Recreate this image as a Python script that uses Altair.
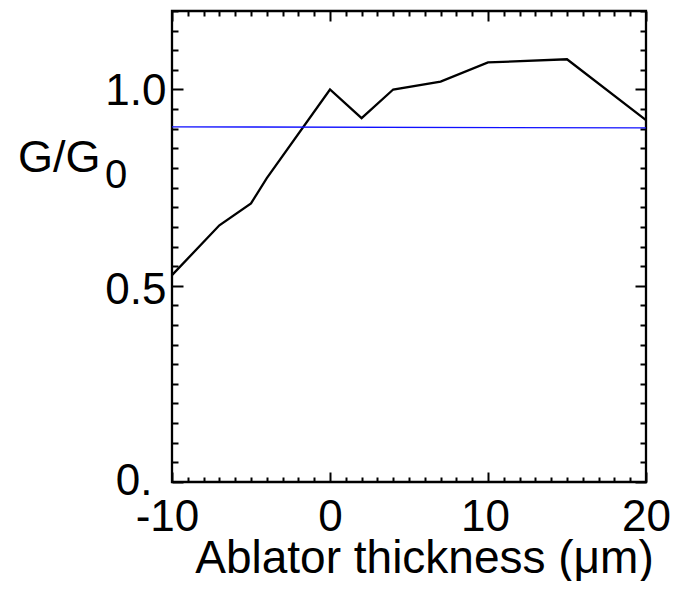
import altair as alt
import pandas as pd

# Data
thickness = [-10, -7, -5, -4, 0, 2, 4, 7, 10, 15, 20]
gain = [0.527, 0.654, 0.710, 0.774, 1.0, 0.927, 1.0, 1.020, 1.069, 1.077, 0.922]
ref_x = [-10, 20]
ref_y = [0.905, 0.902]

x_major = [-10, 0, 10, 20]
x_minor = list(range(-10, 21))
y_major = [0, 0.5, 1.0]
y_minor = [round(i * 0.05, 2) for i in range(25)]

W, H = 474, 471
FONT = "Liberation Sans"

df = pd.DataFrame({"t": thickness, "g": gain})
ref = pd.DataFrame({"t": ref_x, "g": ref_y})

xs = alt.Scale(domain=[-10, 20], nice=False, zero=False)
ys = alt.Scale(domain=[0, 1.2], nice=False, zero=False)

x_tick_size = {"expr": "abs(datum.value) % 10 < 0.001 ? 10 : 5"}
y_tick_size = {"expr": "abs(datum.value * 2 - round(datum.value * 2)) < 0.001 ? 11 : 6"}


def tick_axis(orient, offset, values, size):
    return alt.Axis(orient=orient, offset=offset, values=values, tickSize=size,
                    tickWidth=2, tickColor="black", labels=False, domain=False,
                    grid=False, title=None)


x_label_axis = alt.Axis(
    orient="bottom", values=x_major, ticks=False, tickSize=0, domain=False, grid=False,
    labelExpr="datum.value < 0 ? '-' + format(-datum.value, 'd') : format(datum.value, 'd')",
    labelFont=FONT, labelFontSize=44, labelColor="black", labelPadding=13,
    labelOffset={"expr": "datum.value == -10 ? -5 : (datum.value == 10 ? -3 : 0)"},
    labelFlush=False, labelOverlap=False,
    title="Ablator thickness (μm)", titleFont=FONT, titleFontSize=46,
    titleFontWeight="normal", titleColor="black", titleX=252, titleY=90,
    titleBaseline="alphabetic", titleAlign="center",
)

y_label_axis = alt.Axis(
    orient="left", values=y_major, ticks=False, tickSize=0, domain=False, grid=False,
    labelExpr="datum.value == 0 ? '0.' : format(datum.value, '.1f')",
    labelFont=FONT, labelFontSize=44, labelColor="black",
    labelPadding={"expr": "datum.value == 0 ? 20 : 6"},
    labelOffset={"expr": "datum.value == 0 ? -1 : (datum.value == 0.5 ? 5 : 2)"},
    labelFlush=False, labelOverlap=False, title=None,
)

line = alt.Chart(df).mark_line(color="black", strokeWidth=2.3).encode(
    x=alt.X("t:Q", scale=xs, axis=x_label_axis),
    y=alt.Y("g:Q", scale=ys, axis=y_label_axis),
)

blue = alt.Chart(ref).mark_line(color="#1010ff", strokeWidth=1.3).encode(
    x=alt.X("t:Q", scale=xs, axis=tick_axis("top", -H, x_minor, x_tick_size)),
    y=alt.Y("g:Q", scale=ys, axis=tick_axis("right", -W, y_minor, y_tick_size)),
)

ghost = alt.Chart(df).mark_line(color="black", opacity=0).encode(
    x=alt.X("t:Q", scale=xs, axis=tick_axis("bottom", -H, x_minor, x_tick_size)),
    y=alt.Y("g:Q", scale=ys, axis=tick_axis("left", -W, y_minor, y_tick_size)),
)

ylab = alt.Chart(pd.DataFrame({"s": ["G/G"]})).mark_text(
    font=FONT, fontSize=45, align="left", baseline="alphabetic", color="black"
).encode(text="s:N", x=alt.value(-154), y=alt.value(161))

ysub = alt.Chart(pd.DataFrame({"s": ["0"]})).mark_text(
    font=FONT, fontSize=40, align="left", baseline="alphabetic", color="black"
).encode(text="s:N", x=alt.value(-67), y=alt.value(177))

chart = alt.layer(line, blue, ghost, ylab, ysub).resolve_axis(
    x="independent", y="independent"
).properties(
    width=W, height=H,
    padding={"left": 164, "top": 3, "right": 28, "bottom": 99},
    autosize=alt.AutoSizeParams(type="none"),
).configure_view(stroke="black", strokeWidth=2.3)

chart.save("out.html", embed_options={"renderer": "svg", "actions": False})
